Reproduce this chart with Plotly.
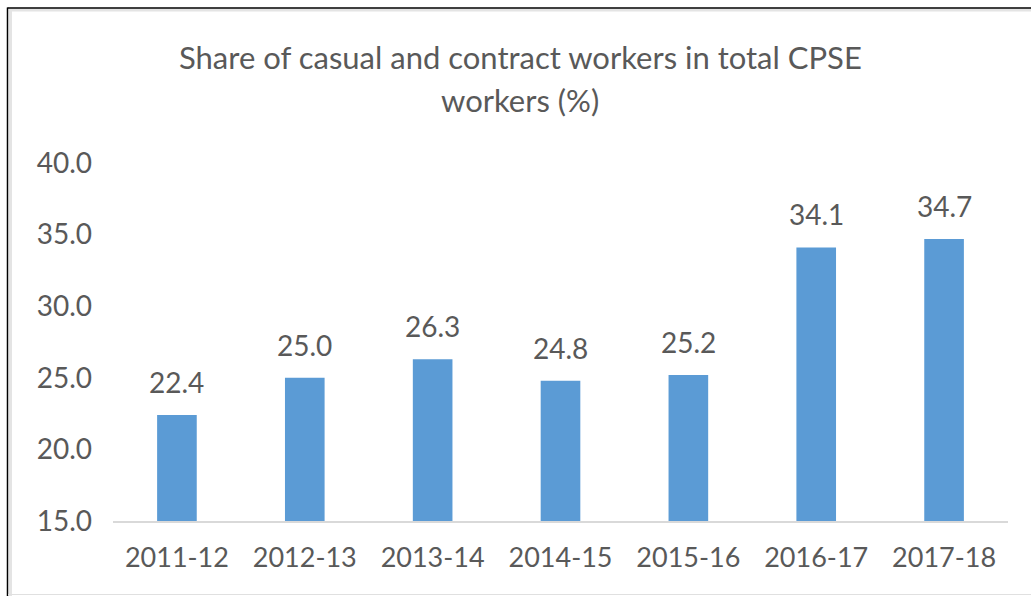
import plotly.graph_objects as go

categories = ["2011-12", "2012-13", "2013-14", "2014-15", "2015-16", "2016-17", "2017-18"]
values = [22.4, 25.0, 26.3, 24.8, 25.2, 34.1, 34.7]
tick_vals = [15, 20, 25, 30, 35, 40]
tick_text = ["15.0", "20.0", "25.0", "30.0", "35.0", "40.0"]
title_lines = ["Share of casual and contract workers in total CPSE", "workers (%)"]

W, H = 1031, 596
ML, MR, MT, MB = 113, 23, 163, 75
PW, PH = W - ML - MR, H - MT - MB
FONT = "Lato, 'Open Sans', sans-serif"
GRAY = "#595959"

fig = go.Figure(go.Bar(
    x=categories, y=values, width=0.31,
    marker=dict(color="#5B9BD5", line=dict(width=0)),
    hoverinfo="skip",
))

annotations = []
for c, v in zip(categories, values):
    annotations.append(dict(x=c, y=v, xref="x", yref="y", text=f"{v:.1f}",
                            showarrow=False, yanchor="bottom", yshift=14,
                            font=dict(family=FONT, size=28, color=GRAY)))

def px_to_paper_x(px):
    return (px - ML) / PW

def px_to_paper_y(py):
    return (H - MB - py) / PH

title_y = [57, 100]
for t, py in zip(title_lines, title_y):
    annotations.append(dict(x=px_to_paper_x(520), y=px_to_paper_y(py), xref="paper", yref="paper",
                            text=t, showarrow=False, xanchor="center", yanchor="middle",
                            font=dict(family=FONT, size=31, color=GRAY)))

shapes = [
    # soft shadow lines inside the frame
    dict(type="line", xref="paper", yref="paper",
         x0=px_to_paper_x(9), x1=px_to_paper_x(1031), y0=px_to_paper_y(10), y1=px_to_paper_y(10),
         line=dict(color="#E4E4E4", width=3)),
    dict(type="line", xref="paper", yref="paper",
         x0=px_to_paper_x(10.5), x1=px_to_paper_x(10.5), y0=px_to_paper_y(596), y1=px_to_paper_y(9),
         line=dict(color="#E4E4E4", width=3)),
    # black frame (top and left)
    dict(type="line", xref="paper", yref="paper",
         x0=px_to_paper_x(7.5), x1=px_to_paper_x(1031), y0=px_to_paper_y(8), y1=px_to_paper_y(8),
         line=dict(color="#000000", width=1.5)),
    dict(type="line", xref="paper", yref="paper",
         x0=px_to_paper_x(7.5), x1=px_to_paper_x(7.5), y0=px_to_paper_y(596), y1=px_to_paper_y(7.5),
         line=dict(color="#000000", width=1.5)),
    # faint bottom line
    dict(type="line", xref="paper", yref="paper",
         x0=px_to_paper_x(8), x1=px_to_paper_x(1031), y0=px_to_paper_y(594.5), y1=px_to_paper_y(594.5),
         line=dict(color="#E0E0E0", width=1)),
]

fig.update_layout(
    width=W, height=H,
    margin=dict(l=ML, r=MR, t=MT, b=MB),
    paper_bgcolor="white", plot_bgcolor="white",
    showlegend=False,
    annotations=annotations,
    shapes=shapes,
    bargap=0.69,
    xaxis=dict(type="category", showline=True, linecolor="#D9D9D9", linewidth=1.5, ticks="",
               showgrid=False, tickfont=dict(family=FONT, size=27, color=GRAY),
               ticklabelstandoff=12),
    yaxis=dict(range=[15, 40], tickvals=tick_vals, ticktext=tick_text, showgrid=False,
               zeroline=False, showline=False, ticks="",
               tickfont=dict(family=FONT, size=28, color=GRAY), ticklabelstandoff=20),
)

fig.write_html("out.html", config={"displayModeBar": False},
               post_script="document.body.style.margin='0';")
